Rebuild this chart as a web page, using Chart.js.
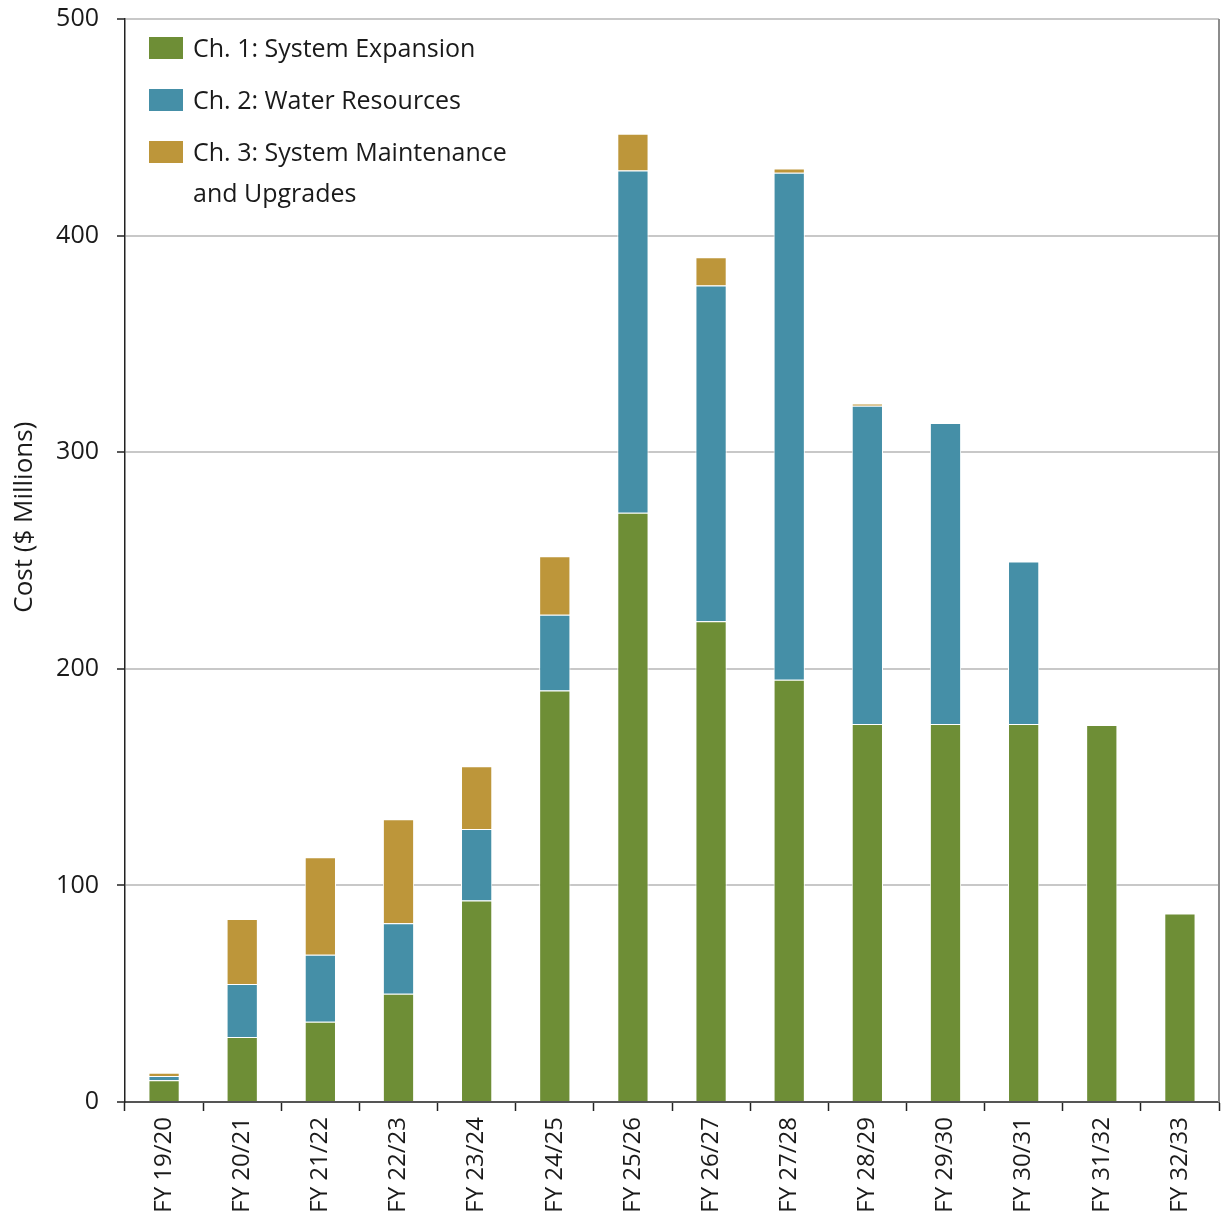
<!DOCTYPE html>
<html>
<head>
<meta charset="utf-8">
<script src="https://cdn.jsdelivr.net/npm/chart.js@4.4.1/dist/chart.umd.min.js"></script>
<style>
  html, body { margin: 0; padding: 0; background: #fff; }
  #wrap { position: relative; width: 1225px; height: 1216px; }
  #legend { position: absolute; left: 149px; top: 27px; font-family: "Open Sans", sans-serif; font-weight: 400; font-size: 25px; color: #1a1a1a; }
  .item { position: relative; padding-left: 44px; line-height: 41px; margin-bottom: 11px; }
  .box { position: absolute; left: 0; top: 10px; width: 34px; height: 22px; }
</style>
</head>
<body>
<div id="wrap">
  <canvas id="costChart" width="1225" height="1216"></canvas>
  <div id="legend"></div>
</div>
<script>
// fiscal years
const years = ['FY 19/20', 'FY 20/21', 'FY 21/22', 'FY 22/23', 'FY 23/24', 'FY 24/25', 'FY 25/26',
               'FY 26/27', 'FY 27/28', 'FY 28/29', 'FY 29/30', 'FY 30/31', 'FY 31/32', 'FY 32/33'];

// cost in $ millions per chapter
const expansion   = [10, 30, 37, 50, 93, 190, 272, 222, 195, 174.5, 174.5, 174.5, 174, 87];
const water       = [2, 24.5, 31, 32.5, 33, 35, 158, 155, 234, 147, 139, 75, 0, 0];
const maintenance = [1.5, 30, 45, 48, 29, 27, 17, 13, 2, 1, 0, 0, 0, 0];

const seriesNames = ['Ch. 1: System Expansion', 'Ch. 2: Water Resources', 'Ch. 3: System Maintenance and Upgrades'];
const yTicks = [0, 100, 200, 300, 400, 500];

const colors = ['#6e8e36', '#458fa7', '#bd963a'];
const font = 'Open Sans';
const textColor = '#1a1a1a';

// legend built as html so the third label can wrap
const legend = document.getElementById('legend');
seriesNames.forEach((name, i) => {
    const div = document.createElement('div');
    div.className = 'item';
    div.innerHTML = '<span class="box" style="background:' + colors[i] + '"></span>' +
        (i === 2 ? 'Ch. 3: System Maintenance<br>and Upgrades' : name);
    legend.appendChild(div);
});

// gray frame on the right + the y axis title (sits a bit above centre in the original)
const extrasPlugin = {
    id: 'extras',
    afterDraw(chart) {
        const a = chart.chartArea;
        const c = chart.ctx;
        c.save();
        c.strokeStyle = '#8c8c8c';
        c.lineWidth = 2;
        c.beginPath();
        c.moveTo(a.right, a.top);
        c.lineTo(a.right, a.bottom);
        c.stroke();

        c.translate(25, a.top + (a.bottom - a.top) * 0.46);
        c.rotate(-Math.PI / 2);
        c.fillStyle = textColor;
        c.font = '400 26px "Open Sans"';
        c.textAlign = 'center';
        c.textBaseline = 'middle';
        c.fillText('Cost ($ Millions)', 0, 0);
        c.restore();
    }
};

const ctx = document.getElementById('costChart').getContext('2d');
const costChart = new Chart(ctx, {
    type: 'bar',
    data: {
        labels: years,
        datasets: [expansion, water, maintenance].map((d, i) => ({
            label: seriesNames[i],
            data: d,
            backgroundColor: colors[i],
            borderColor: '#ffffff',
            borderWidth: 1,
            barPercentage: 0.4,
            categoryPercentage: 1
        }))
    },
    options: {
        responsive: false,
        animation: false,
        layout: { padding: { top: 19, right: 6, left: 0, bottom: 0 } },
        plugins: {
            legend: { display: false },
            tooltip: { enabled: false }
        },
        scales: {
            x: {
                stacked: true,
                grid: { offset: true, drawOnChartArea: false, drawTicks: true, tickLength: 9, tickColor: '#222', tickWidth: 1.5 },
                border: { color: '#555', width: 2 },
                ticks: {
                    minRotation: 90, maxRotation: 90, padding: 6,
                    color: textColor,
                    font: { family: font, size: 24, weight: 400 }
                },
                afterFit(scale) { scale.height = 114; }
            },
            y: {
                stacked: true,
                min: 0, max: 500,
                afterBuildTicks(scale) { scale.ticks = yTicks.map(v => ({ value: v })); },
                grid: { color: '#c8c8c8', lineWidth: 2, tickColor: '#222', tickLength: 8, tickWidth: 1.5 },
                border: { color: '#222', width: 1.5 },
                ticks: {
                    padding: 18,
                    color: textColor,
                    font: { family: font, size: 25, weight: 400 }
                },
                afterFit(scale) {
                    scale.width = 125;
                    scale.paddingTop = 0;
                    scale.paddingBottom = 0;
                }
            }
        }
    },
    plugins: [extrasPlugin]
});
</script>
</body>
</html>
